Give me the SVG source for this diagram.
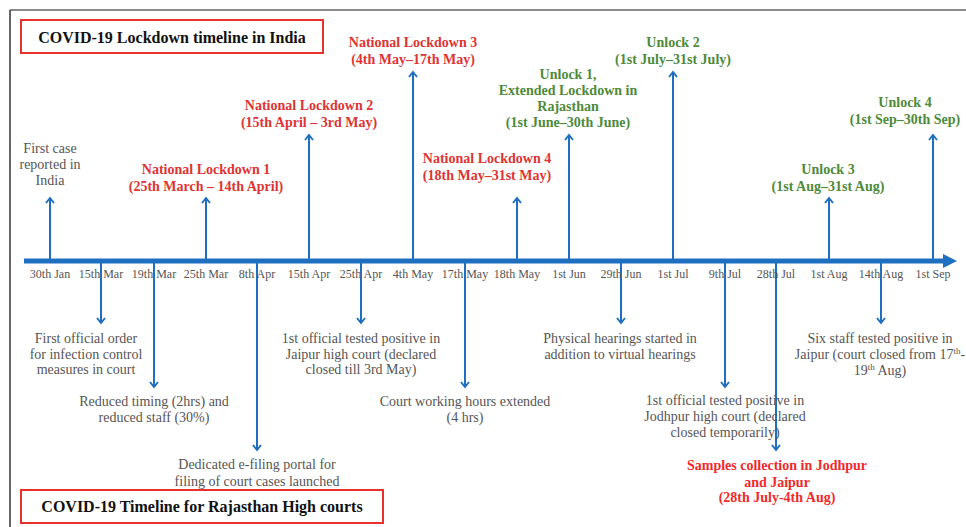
<svg xmlns="http://www.w3.org/2000/svg" width="966" height="527" viewBox="0 0 966 527">
<style>
  text { font-family: "Liberation Serif", "Times New Roman", serif; text-anchor: middle; }
  .ax { font-size: 12px; fill: #555; }
  .g { font-size: 14px; fill: #555; }
  .red { font-size: 14px; font-weight: bold; fill: #dd3434; }
  .red2 { font-size: 14px; font-weight: bold; fill: #f02a2a; }
  .grn { font-size: 14px; font-weight: bold; fill: #4e8a3a; }
  .ttl { font-size: 16px; font-weight: bold; fill: #111; }
  .box { fill: #fff; stroke: #e8302c; stroke-width: 2; }
  .tick { stroke: #1f6fc0; stroke-width: 2; fill: none; }
  .sup { font-size: 9px; }
</style>
<defs>
  <marker id="ah" markerUnits="userSpaceOnUse" markerWidth="12" markerHeight="12" viewBox="-6 -6 12 12" refX="0" refY="0" orient="auto">
    <path d="M-5,-4 L0,0 L-5,4" fill="none" stroke="#1f6fc0" stroke-width="2"/>
  </marker>
</defs>
<rect x="0" y="0" width="966" height="527" fill="#fff"/>
<g id="frame">
  <line x1="10" y1="10" x2="966" y2="10" stroke="#8a8a8a" stroke-width="2"/>
  <line x1="10" y1="10" x2="10" y2="527" stroke="#333" stroke-width="1.5"/>
</g>
<g id="connectors">
  <line x1="24" y1="261" x2="945" y2="261" stroke="#1f6fc0" stroke-width="5"/>
  <polygon points="943,254 957,261 943,268" fill="#1f6fc0"/>
  <line class="tick" x1="50" y1="261" x2="50" y2="198" marker-end="url(#ah)"/>
  <line class="tick" x1="206" y1="261" x2="206" y2="198" marker-end="url(#ah)"/>
  <line class="tick" x1="309" y1="261" x2="309" y2="135" marker-end="url(#ah)"/>
  <line class="tick" x1="413" y1="261" x2="413" y2="72" marker-end="url(#ah)"/>
  <line class="tick" x1="517" y1="261" x2="517" y2="198" marker-end="url(#ah)"/>
  <line class="tick" x1="569" y1="261" x2="569" y2="135" marker-end="url(#ah)"/>
  <line class="tick" x1="673" y1="261" x2="673" y2="72" marker-end="url(#ah)"/>
  <line class="tick" x1="829" y1="261" x2="829" y2="198" marker-end="url(#ah)"/>
  <line class="tick" x1="933" y1="261" x2="933" y2="135" marker-end="url(#ah)"/>
  <line class="tick" x1="101" y1="261" x2="101" y2="323" marker-end="url(#ah)"/>
  <line class="tick" x1="154" y1="261" x2="154" y2="387" marker-end="url(#ah)"/>
  <line class="tick" x1="257" y1="261" x2="257" y2="450" marker-end="url(#ah)"/>
  <line class="tick" x1="361" y1="261" x2="361" y2="323" marker-end="url(#ah)"/>
  <line class="tick" x1="465" y1="261" x2="465" y2="387" marker-end="url(#ah)"/>
  <line class="tick" x1="621" y1="261" x2="621" y2="323" marker-end="url(#ah)"/>
  <line class="tick" x1="725" y1="261" x2="725" y2="387" marker-end="url(#ah)"/>
  <line class="tick" x1="776" y1="261" x2="776" y2="450" marker-end="url(#ah)"/>
  <line class="tick" x1="881" y1="261" x2="881" y2="323" marker-end="url(#ah)"/>
</g>
<g id="axis-labels">
  <text class="ax" x="50" y="278">30th Jan</text>
  <text class="ax" x="101" y="278">15th Mar</text>
  <text class="ax" x="154" y="278">19th Mar</text>
  <text class="ax" x="206" y="278">25th Mar</text>
  <text class="ax" x="257" y="278">8th Apr</text>
  <text class="ax" x="309" y="278">15th Apr</text>
  <text class="ax" x="361" y="278">25th Apr</text>
  <text class="ax" x="413" y="278">4th May</text>
  <text class="ax" x="465" y="278">17th May</text>
  <text class="ax" x="517" y="278">18th May</text>
  <text class="ax" x="569" y="278">1st Jun</text>
  <text class="ax" x="621" y="278">29th Jun</text>
  <text class="ax" x="673" y="278">1st Jul</text>
  <text class="ax" x="725" y="278">9th Jul</text>
  <text class="ax" x="776" y="278">28th Jul</text>
  <text class="ax" x="829" y="278">1st Aug</text>
  <text class="ax" x="881" y="278">14th Aug</text>
  <text class="ax" x="933" y="278">1st Sep</text>
</g>
<g id="title-india">
  <rect class="box" x="21" y="20" width="302" height="33"/>
  <text class="ttl" x="172" y="43">COVID-19 Lockdown timeline in India</text>
</g>
<g id="title-rajasthan">
  <rect class="box" x="21" y="490" width="362" height="33"/>
  <text class="ttl" x="202" y="512">COVID-19 Timeline for Rajasthan High courts</text>
</g>
<g id="first-case">
  <text class="g" x="50" y="153">First case</text>
  <text class="g" x="50" y="169">reported in</text>
  <text class="g" x="50" y="185">India</text>
</g>
<g id="lockdown-1">
  <text class="red" x="206" y="174">National Lockdown 1</text>
  <text class="red" x="206" y="191">(25th March – 14th April)</text>
</g>
<g id="lockdown-2">
  <text class="red" x="309" y="110">National Lockdown 2</text>
  <text class="red" x="309" y="127">(15th April – 3rd May)</text>
</g>
<g id="lockdown-3">
  <text class="red" x="413" y="47">National Lockdown 3</text>
  <text class="red" x="413" y="64">(4th May–17th May)</text>
</g>
<g id="lockdown-4">
  <text class="red" x="487" y="163">National Lockdown 4</text>
  <text class="red" x="487" y="180">(18th May–31st May)</text>
</g>
<g id="unlock-1">
  <text class="grn" x="568" y="79">Unlock 1,</text>
  <text class="grn" x="568" y="95">Extended Lockdown in</text>
  <text class="grn" x="568" y="111">Rajasthan</text>
  <text class="grn" x="568" y="127">(1st June–30th June)</text>
</g>
<g id="unlock-2">
  <text class="grn" x="673" y="47">Unlock 2</text>
  <text class="grn" x="673" y="64">(1st July–31st July)</text>
</g>
<g id="unlock-3">
  <text class="grn" x="828" y="174">Unlock 3</text>
  <text class="grn" x="828" y="191">(1st Aug–31st Aug)</text>
</g>
<g id="unlock-4">
  <text class="grn" x="905" y="107">Unlock 4</text>
  <text class="grn" x="905" y="124">(1st Sep–30th Sep)</text>
</g>
<g id="first-order">
  <text class="g" x="86" y="343">First official order</text>
  <text class="g" x="86" y="359">for infection control</text>
  <text class="g" x="86" y="374">measures in court</text>
</g>
<g id="reduced-timing">
  <text class="g" x="154" y="406">Reduced timing (2hrs) and</text>
  <text class="g" x="154" y="422">reduced staff (30%)</text>
</g>
<g id="e-filing">
  <text class="g" x="257" y="469">Dedicated e-filing portal for</text>
  <text class="g" x="257" y="486">filing of court cases launched</text>
</g>
<g id="jaipur-positive">
  <text class="g" x="361" y="343">1st official tested positive in</text>
  <text class="g" x="361" y="359">Jaipur high court (declared</text>
  <text class="g" x="361" y="374">closed till 3rd May)</text>
</g>
<g id="hours-extended">
  <text class="g" x="465" y="406">Court working hours extended</text>
  <text class="g" x="465" y="422">(4 hrs)</text>
</g>
<g id="physical-hearings">
  <text class="g" x="620" y="343">Physical hearings started in</text>
  <text class="g" x="620" y="359">addition to virtual hearings</text>
</g>
<g id="jodhpur-positive">
  <text class="g" x="725" y="405">1st official tested positive in</text>
  <text class="g" x="725" y="421">Jodhpur high court (declared</text>
  <text class="g" x="725" y="437">closed temporarily)</text>
</g>
<g id="samples">
  <text class="red2" x="777" y="470">Samples collection in Jodhpur</text>
  <text class="red2" x="777" y="487">and Jaipur</text>
  <text class="red2" x="777" y="502">(28th July-4th Aug)</text>
</g>
<g id="six-staff">
  <text class="g" x="880" y="343">Six staff tested positive in</text>
  <text class="g" x="880" y="359">Jaipur (court closed from 17<tspan class="sup" dy="-5">th</tspan><tspan dy="5">-</tspan></text>
  <text class="g" x="880" y="375">19<tspan class="sup" dy="-5">th</tspan><tspan dy="5"> Aug)</tspan></text>
</g>
</svg>
